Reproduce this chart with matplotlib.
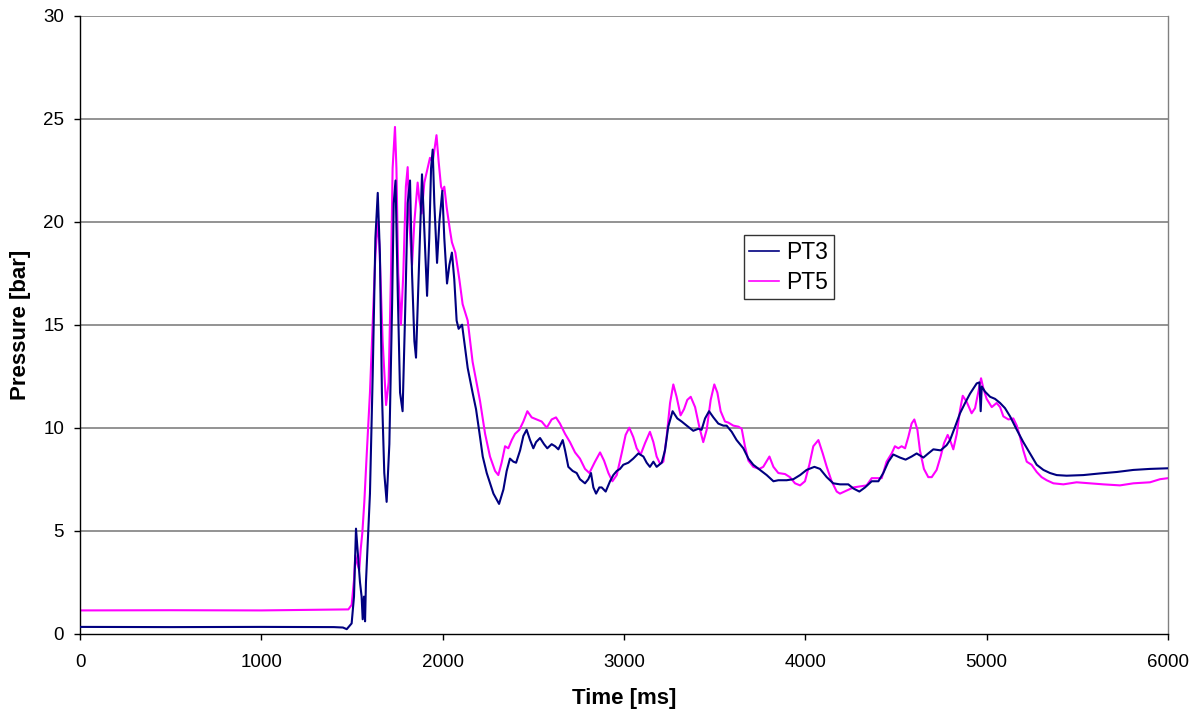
import matplotlib
matplotlib.use("Agg")
import matplotlib.pyplot as plt

# ---- data ----
pt3_time = [0, 500, 1000, 1400, 1450, 1471, 1498, 1511, 1522, 1535, 1544, 1553, 1559, 1566, 1572, 1577,
            1590, 1599, 1614, 1629, 1642, 1654, 1665, 1678, 1691, 1706, 1721, 1730, 1740, 1752, 1765,
            1779, 1794, 1807, 1820, 1831, 1844, 1853, 1868, 1886, 1899, 1914, 1926, 1936, 1945, 1954,
            1969, 1982, 1998, 2009, 2024, 2037, 2051, 2064, 2077, 2088, 2107, 2119, 2138, 2165, 2184,
            2202, 2221, 2243, 2280, 2311, 2335, 2353, 2371, 2390, 2405, 2427, 2445, 2463, 2482, 2500,
            2515, 2537, 2559, 2577, 2601, 2620, 2638, 2662, 2675, 2693, 2717, 2739, 2757, 2785, 2803,
            2818, 2831, 2846, 2864, 2877, 2899, 2923, 2941, 2960, 2978, 2996, 3024, 3051, 3079, 3107,
            3125, 3143, 3162, 3180, 3208, 3226, 3244, 3268, 3294, 3318, 3346, 3382, 3410, 3428, 3447,
            3469, 3493, 3520, 3548, 3566, 3594, 3621, 3658, 3686, 3713, 3750, 3787, 3824, 3851, 3897,
            3934, 3971, 4007, 4050, 4081, 4118, 4154, 4191, 4237, 4265, 4298, 4329, 4366, 4403, 4430,
            4458, 4485, 4522, 4553, 4586, 4614, 4651, 4678, 4706, 4746, 4779, 4798, 4826, 4853, 4881,
            4908, 4945, 4960, 4967, 4973, 4991, 5019, 5046, 5074, 5101, 5129, 5166, 5202, 5239, 5276,
            5313, 5349, 5386, 5441, 5533, 5625, 5717, 5809, 5901, 6000]
pt3_bar = [0.33, 0.32, 0.33, 0.32, 0.30, 0.22, 0.5, 1.8, 5.1, 3.6, 2.5, 1.8, 0.7, 1.8, 0.6, 2.5,
           5.1, 6.8, 12.5, 19.2, 21.4, 18.4, 11.7, 7.8, 6.4, 9.2, 15.9, 20.9, 22.0, 16.7, 11.7,
           10.8, 15.9, 20.9, 22.0, 17.5, 14.2, 13.4, 17.5, 22.3, 19.5, 16.4, 19.2, 22.6, 23.5, 20.9,
           18.0, 20.0, 21.5, 19.2, 17.0, 17.9, 18.5, 17.2, 15.2, 14.8, 15.0, 14.2, 12.9, 11.7, 10.9,
           9.8, 8.6, 7.8, 6.8, 6.3, 7.0, 7.9, 8.5, 8.35, 8.3, 8.9, 9.6, 9.9, 9.4, 9.0,
           9.3, 9.5, 9.2, 9.0, 9.2, 9.1, 8.95, 9.4, 8.9, 8.1, 7.9, 7.8, 7.5, 7.3, 7.5,
           7.8, 7.1, 6.8, 7.1, 7.1, 6.9, 7.4, 7.7, 7.9, 8.0, 8.2, 8.3, 8.5, 8.75, 8.6,
           8.3, 8.1, 8.35, 8.1, 8.3, 8.9, 10.05, 10.8, 10.45, 10.3, 10.1, 9.85, 9.95, 9.9, 10.45,
           10.8, 10.5, 10.2, 10.1, 10.1, 9.8, 9.4, 9.0, 8.5, 8.2, 7.95, 7.7, 7.4, 7.45, 7.45,
           7.5, 7.7, 7.95, 8.1, 8.0, 7.6, 7.3, 7.25, 7.25, 7.05, 6.9, 7.1, 7.4, 7.4, 7.8,
           8.35, 8.7, 8.55, 8.45, 8.6, 8.75, 8.55, 8.75, 8.95, 8.9, 9.15, 9.4, 10.05, 10.7, 11.2,
           11.65, 12.15, 12.2, 10.8, 12.0, 11.75, 11.5, 11.4, 11.2, 10.95, 10.55, 9.9, 9.3, 8.75, 8.2,
           7.95, 7.8, 7.7, 7.67, 7.7, 7.78, 7.85, 7.95, 8.0, 8.03]

pt5_time = [0, 500, 1000, 1480, 1498, 1511, 1518, 1529, 1540, 1548, 1557, 1568, 1580, 1599, 1614,
            1629, 1642, 1651, 1669, 1688, 1702, 1715, 1724, 1737, 1745, 1755, 1770, 1783, 1797, 1807,
            1816, 1831, 1844, 1862, 1871, 1884, 1899, 1917, 1930, 1945, 1966, 1978, 1991, 2000, 2009,
            2022, 2040, 2051, 2070, 2092, 2110, 2138, 2165, 2193, 2206, 2234, 2261, 2289, 2307, 2325,
            2344, 2362, 2381, 2399, 2423, 2445, 2467, 2491, 2518, 2546, 2574, 2601, 2625, 2647, 2675,
            2702, 2730, 2757, 2785, 2809, 2840, 2868, 2890, 2914, 2936, 2960, 2987, 3009, 3029, 3051,
            3070, 3092, 3116, 3143, 3162, 3180, 3199, 3217, 3235, 3254, 3272, 3290, 3312, 3331, 3349,
            3368, 3392, 3415, 3437, 3456, 3478, 3498, 3515, 3533, 3557, 3575, 3603, 3631, 3649, 3667,
            3686, 3713, 3746, 3768, 3802, 3824, 3851, 3888, 3915, 3943, 3971, 3998, 4022, 4044, 4072,
            4096, 4118, 4145, 4173, 4191, 4228, 4265, 4302, 4338, 4366, 4393, 4421, 4448, 4476, 4494,
            4513, 4531, 4550, 4568, 4586, 4601, 4618, 4632, 4654, 4678, 4697, 4724, 4746, 4765, 4785,
            4802, 4816, 4835, 4853, 4868, 4890, 4917, 4936, 4954, 4969, 4982, 5000, 5028, 5055, 5074,
            5092, 5120, 5147, 5166, 5184, 5202, 5221, 5248, 5276, 5303, 5331, 5368, 5423, 5496, 5570,
            5643, 5735, 5809, 5901, 5956, 6000]
pt5_bar = [1.13, 1.14, 1.13, 1.18, 1.4, 2.6, 3.8, 3.4, 3.1, 4.1, 4.9, 6.4, 8.5, 11.7, 15.0,
           18.4, 20.0, 18.9, 14.2, 11.1, 12.2, 17.5, 22.6, 24.6, 22.6, 17.5, 15.0, 17.5, 21.7, 22.65,
           20.0, 17.9, 20.0, 21.9, 21.1, 20.4, 21.9, 22.6, 23.1, 22.9, 24.2, 22.9, 21.7, 21.5, 21.7,
           20.7, 19.6, 19.0, 18.5, 17.2, 16.0, 15.2, 13.2, 11.9, 11.3, 9.7, 8.6, 7.9, 7.7, 8.3,
           9.1, 9.0, 9.4, 9.7, 9.9, 10.3, 10.8, 10.5, 10.4, 10.3, 10.0, 10.4, 10.5, 10.2, 9.7,
           9.3, 8.8, 8.5, 8.0, 7.8, 8.35, 8.8, 8.4, 7.8, 7.4, 7.7, 8.75, 9.65, 10.0, 9.55,
           9.0, 8.7, 9.25, 9.8, 9.3, 8.6, 8.25, 8.35, 9.55, 11.2, 12.1, 11.5, 10.6, 10.9, 11.35,
           11.5, 11.0, 10.05, 9.3, 9.9, 11.35, 12.1, 11.7, 10.8, 10.3, 10.25, 10.1, 10.05, 9.95, 9.1,
           8.4, 8.1, 8.0, 8.1, 8.6, 8.1, 7.8, 7.75, 7.6, 7.3, 7.2, 7.4, 8.2, 9.1, 9.4,
           8.75, 8.1, 7.4, 6.9, 6.8, 6.95, 7.1, 7.15, 7.2, 7.55, 7.55, 7.55, 8.35, 8.75, 9.1,
           9.0, 9.1, 9.0, 9.55, 10.2, 10.4, 9.9, 8.9, 8.0, 7.6, 7.6, 7.95, 8.6, 9.25, 9.65,
           9.3, 8.95, 9.7, 10.85, 11.55, 11.25, 10.7, 10.95, 11.75, 12.4, 11.9, 11.4, 11.0, 11.2, 11.0,
           10.55, 10.4, 10.45, 10.1, 9.55, 8.9, 8.35, 8.2, 7.85, 7.6, 7.45, 7.3, 7.25, 7.35, 7.3,
           7.25, 7.2, 7.3, 7.35, 7.5, 7.55]

series_names = ["PT3", "PT5"]
x_ticks = [0, 1000, 2000, 3000, 4000, 5000, 6000]
y_ticks = [0, 5, 10, 15, 20, 25, 30]

plt.rcParams['font.family'] = ['Liberation Sans', 'DejaVu Sans']

fig = plt.figure(figsize=(12.01, 7.16), dpi=100)
ax = fig.add_axes([80 / 1201, 1 - 633.7 / 716, 1088 / 1201, 618 / 716])

ax.plot(pt3_time, pt3_bar, color="#000080", lw=1.5, label=series_names[0], zorder=3)
ax.plot(pt5_time, pt5_bar, color="#FF00FF", lw=1.5, label=series_names[1], zorder=2)

ax.set_xlim(0, 6000)
ax.set_ylim(0, 30)
ax.set_xticks(x_ticks)
ax.set_yticks(y_ticks)
ax.tick_params(axis='both', direction='out', length=4.5, width=1, labelsize=13.5, colors='black')
ax.tick_params(axis='x', pad=10)
ax.tick_params(axis='y', pad=7)

for yv in y_ticks[1:]:
    ax.axhline(yv, color='#808080', lw=1.2, zorder=1)

ax.spines['left'].set_color('black')
ax.spines['bottom'].set_color('black')
ax.spines['right'].set_color('#808080')
ax.spines['top'].set_visible(False)
for s in ax.spines.values():
    s.set_linewidth(1.0)

ax.set_xlabel("Time [ms]", fontsize=16, fontweight='bold', labelpad=12)
ax.set_ylabel("Pressure [bar]", fontsize=16, fontweight='bold', labelpad=9)

leg = ax.legend(loc='upper left', bbox_to_anchor=(0.610, 0.645), fontsize=16.5,
                frameon=True, fancybox=False, handlelength=1.3, handletextpad=0.3,
                borderpad=0.25, labelspacing=0.3, borderaxespad=0)
leg.get_frame().set_edgecolor('black')
leg.get_frame().set_linewidth(1.0)
for line in leg.get_lines():
    line.set_linewidth(1.2)

fig.savefig("out.png", dpi=100)
